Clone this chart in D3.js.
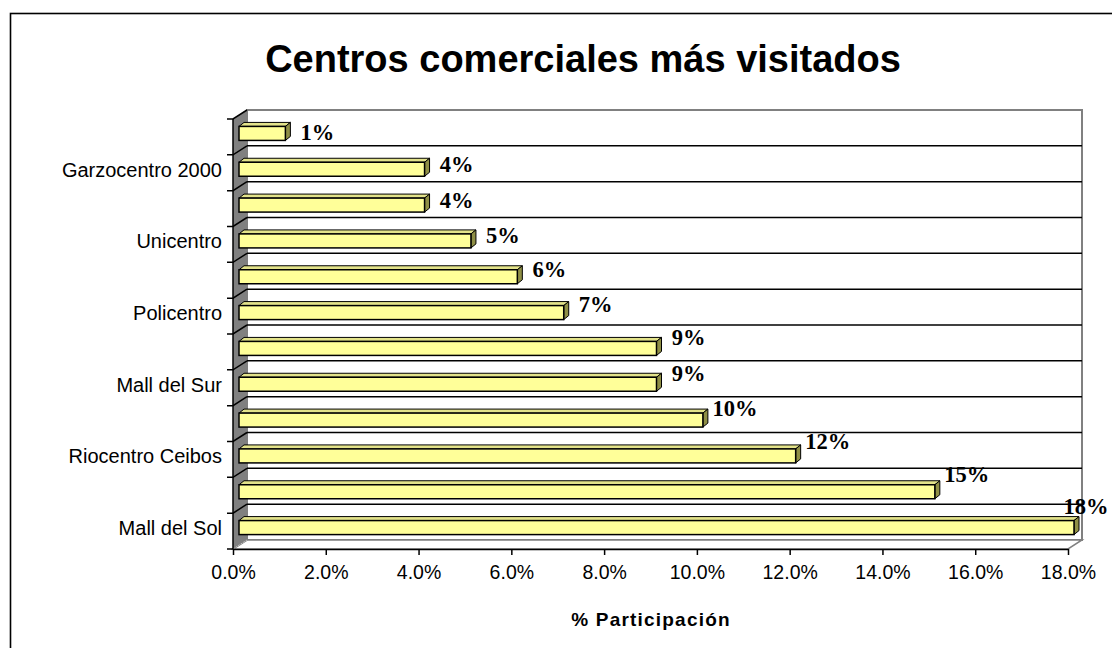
<!DOCTYPE html>
<html>
<head>
<meta charset="utf-8">
<script src="https://cdn.jsdelivr.net/npm/d3@7"></script>
<style>
  body { margin: 0; background: #fff; }
  text { font-family: Arial, 'Liberation Sans', sans-serif; }
</style>
</head>
<body>
<div id="chart"></div>
<script>
// bottom to top, as in the sheet; every second name is hidden by the chart
var categories = ['Mall del Sol', '', 'Riocentro Ceibos', '', 'Mall del Sur', '',
  'Policentro', '', 'Unicentro', '', 'Garzocentro 2000', ''];
var values = [18, 15, 12, 10, 9, 9, 7, 6, 5, 4, 4, 1];
var xTicks = [0, 2, 4, 6, 8, 10, 12, 14, 16, 18];
var title = 'Centros comerciales más visitados';
var xTitle = '% Participación';

var W = 1112, H = 648,
  pl = 233, pr = 1068, pt = 119, pb = 549,
  dx = 14, dy = -9,        // depth of the 3d box
  bx = 6, by = -3.5,       // bar offset into the box
  bdx = 5, bdy = -4,       // bar depth
  bh = 14;                 // bar thickness

var svg = d3.select('#chart').append('svg')
  .attr('width', W).attr('height', H);

// chart border
svg.append('rect')
  .attr('x', 10.5).attr('y', 13.5)
  .attr('width', 1200).attr('height', 700)
  .attr('fill', 'none').attr('stroke', '#000').attr('stroke-width', 1.6);

svg.append('text')
  .attr('x', 583).attr('y', 72)
  .attr('text-anchor', 'middle')
  .style('font-size', '38px').style('font-weight', 'bold')
  .text(title);

var x = d3.scaleLinear().domain([0, 18]).range([pl, pr]);
var y = d3.scaleBand().domain(d3.range(categories.length)).range([pb, pt]);
var bw = y.bandwidth();
var bounds = d3.range(categories.length + 1).map(function (k) {
  return pb - k * bw;
});

// back wall
svg.append('rect')
  .attr('x', pl + dx).attr('y', pt + dy)
  .attr('width', pr - pl).attr('height', pb - pt)
  .attr('fill', '#fff').attr('stroke', '#808080').attr('stroke-width', 2);

svg.selectAll('.grid')
  .data(bounds.slice(1, -1))
  .enter().append('line')
  .attr('class', 'grid')
  .attr('x1', pl + dx).attr('x2', pr + dx)
  .attr('y1', function (d) { return d + dy; })
  .attr('y2', function (d) { return d + dy; })
  .attr('stroke', '#000').attr('stroke-width', 1.5);

// floor
svg.append('polygon')
  .attr('points', [[pl, pb], [pl + dx, pb + dy], [pr + dx, pb + dy], [pr, pb]].join(' '))
  .attr('fill', '#fff').attr('stroke', '#808080').attr('stroke-width', 1.5);

// side wall
svg.append('polygon')
  .attr('points', [[pl, pt], [pl + dx, pt + dy], [pl + dx, pb + dy], [pl, pb]].join(' '))
  .attr('fill', '#808080');
svg.append('line')
  .attr('x1', pl).attr('x2', pl + dx)
  .attr('y1', pb).attr('y2', pb + dy)
  .attr('stroke', '#c0c0c0').attr('stroke-width', 1).attr('stroke-dasharray', '2,1');

// category ticks, running into the side wall
svg.selectAll('.ytick')
  .data(bounds)
  .enter().append('polyline')
  .attr('class', 'ytick')
  .attr('points', function (d, k) {
    return k ? [[pl - 6, d], [pl, d], [pl + dx, d + dy]].join(' ')
      : [[pl - 6, d], [pl, d]].join(' ');
  })
  .attr('fill', 'none').attr('stroke', '#000').attr('stroke-width', 1.5);

svg.append('line')
  .attr('x1', pl).attr('x2', pl)
  .attr('y1', pt).attr('y2', pb)
  .attr('stroke', '#000').attr('stroke-width', 1.5);

svg.selectAll('.ylabel')
  .data(categories)
  .enter().append('text')
  .attr('class', 'ylabel')
  .attr('x', 222)
  .attr('y', function (d, i) { return y(i) + bw / 2 - 3; })
  .attr('dy', '0.35em')
  .attr('text-anchor', 'end')
  .style('font-size', '20px')
  .text(function (d) { return d; });

// value axis
var xAxis = svg.append('g')
  .attr('transform', 'translate(0,' + pb + ')')
  .call(d3.axisBottom(x)
    .tickValues(xTicks)
    .tickSize(6).tickSizeOuter(0)
    .tickFormat(function (d) { return d.toFixed(1) + '%'; }));
xAxis.select('.domain').attr('stroke-width', 1.5);
xAxis.selectAll('.tick line').attr('stroke-width', 1.5);
xAxis.selectAll('.tick text')
  .attr('y', 16)
  .style('font-family', 'Arial, "Liberation Sans", sans-serif')
  .style('font-size', '19.5px').attr('fill', '#000');

svg.append('text')
  .attr('x', 651).attr('y', 626)
  .attr('text-anchor', 'middle')
  .style('font-size', '19px').style('font-weight', 'bold')
  .style('letter-spacing', '1.2px')
  .text(xTitle);

// bars, top row first so lower ones sit in front
var bars = svg.selectAll('.bar')
  .data(values.map(function (v, i) { return { v: v, i: i }; }).reverse())
  .enter().append('g')
  .attr('class', 'bar');

function face(d) {
  var x0 = pl + bx, x1 = x(d.v) + bx,
    y0 = y(d.i) + bw / 2 + by - bh / 2, y1 = y0 + bh;
  return { x0: x0, x1: x1, y0: y0, y1: y1 };
}

bars.append('polygon')
  .attr('points', function (d) {
    var f = face(d);
    return [[f.x0, f.y0], [f.x0 + bdx, f.y0 + bdy], [f.x1 + bdx, f.y0 + bdy], [f.x1, f.y0]].join(' ');
  })
  .attr('fill', '#e3e38a').attr('stroke', '#000').attr('stroke-width', 1);

bars.append('polygon')
  .attr('points', function (d) {
    var f = face(d);
    return [[f.x1, f.y0], [f.x1 + bdx, f.y0 + bdy], [f.x1 + bdx, f.y1 + bdy], [f.x1, f.y1]].join(' ');
  })
  .attr('fill', '#8f8f45').attr('stroke', '#000').attr('stroke-width', 1);

bars.append('rect')
  .attr('x', function (d) { return face(d).x0; })
  .attr('y', function (d) { return face(d).y0; })
  .attr('width', function (d) { var f = face(d); return f.x1 - f.x0; })
  .attr('height', bh)
  .attr('fill', '#ffff99').attr('stroke', '#000').attr('stroke-width', 1.5);

// data labels, floating above the bar end
svg.selectAll('.vlabel')
  .data(values)
  .enter().append('text')
  .attr('class', 'vlabel')
  .attr('x', function (d) { return Math.min(x(d) + bx + 32, W - 26); })
  .attr('y', function (d, i) { return y(i) + bw / 2 + by - 1.2 * d; })
  .attr('dy', '0.35em')
  .attr('text-anchor', 'middle')
  .style('font-family', '"Times New Roman", "Liberation Serif", serif')
  .style('font-size', '22.5px').style('font-weight', 'bold')
  .text(function (d) { return d + '%'; });
</script>
</body>
</html>
